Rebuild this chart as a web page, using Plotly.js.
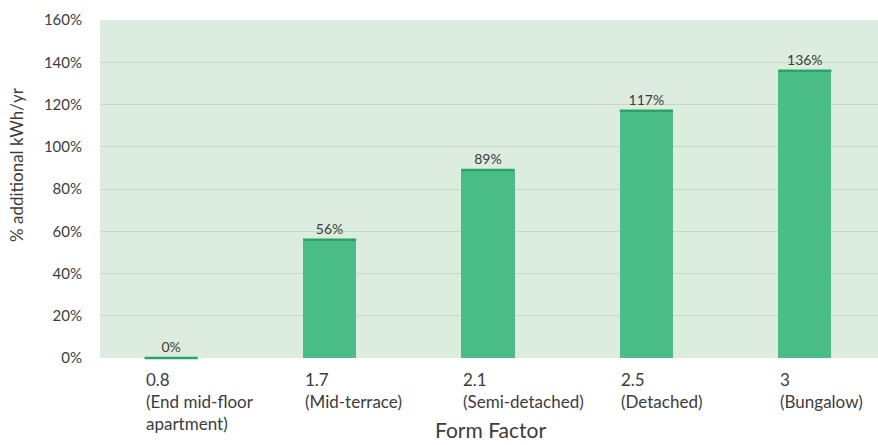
<!DOCTYPE html>
<html>
<head>
<meta charset="utf-8">
<script src="https://cdn.plot.ly/plotly-3.0.1.min.js"></script>
<style>html,body{margin:0;padding:0;background:#fff;}#chart{width:878px;height:445px;}</style>
</head>
<body>
<div id="chart"></div>
<script>
// ---- data ----
const formFactor = ['0.8', '1.7', '2.1', '2.5', '3'];
const dwellingType = ['End mid-floor<br>apartment', 'Mid-terrace', 'Semi-detached', 'Detached', 'Bungalow'];
const additionalPct = [0, 56, 89, 117, 136];
const yTickVals = [0, 20, 40, 60, 80, 100, 120, 140, 160];
const yTickText = ['0%', '20%', '40%', '60%', '80%', '100%', '120%', '140%', '160%'];
const xTitle = 'Form Factor';
const yTitle = '% additional kWh/yr';

const FONT = 'Lato, "Open Sans", sans-serif';
const TXT = '#3c3c3c';

const bars = {
  type: 'bar',
  x: formFactor,
  y: additionalPct,
  width: 0.335,
  marker: {color: '#4abc86'},
  text: additionalPct.map(v => v + '%'),
  textposition: 'outside',
  textfont: {family: FONT, size: 14, color: TXT},
  cliponaxis: false,
  hoverinfo: 'skip'
};
const tops = {
  type: 'scatter',
  mode: 'markers',
  x: formFactor,
  y: additionalPct,
  marker: {symbol: 'line-ew-open', size: 38, color: '#2aa462', line: {width: 2.5, color: '#2aa462'}},
  cliponaxis: false,
  hoverinfo: 'skip'
};

const tickAnnots = formFactor.map((f, i) => ({
  x: i, xref: 'x', y: 0, yref: 'paper',
  xanchor: 'left', yanchor: 'top', align: 'left',
  xshift: -27, yshift: -9,
  text: f + '<br>(' + dwellingType[i] + ')',
  showarrow: false,
  font: {family: FONT, size: 17, color: TXT}
}));

const titleAnnots = [
  {x: 0.502, xref: 'paper', y: -0.213, yref: 'paper', xanchor: 'center', yanchor: 'middle',
   text: xTitle, showarrow: false, font: {family: FONT, size: 21, color: TXT}},
  {x: -0.1067, xref: 'paper', y: 0.574, yref: 'paper', xanchor: 'center', yanchor: 'middle',
   text: yTitle, textangle: -90, showarrow: false, font: {family: FONT, size: 17, color: TXT}}
];

const layout = {
  width: 878, height: 445,
  margin: {l: 100, r: 0, t: 20, b: 87},
  paper_bgcolor: '#ffffff',
  plot_bgcolor: '#dcecdf',
  showlegend: false,
  bargap: 0,
  font: {family: FONT, size: 14, color: TXT},
  xaxis: {
    type: 'category',
    range: [-0.449, 4.462],
    showticklabels: false,
    showgrid: false,
    zeroline: false,
    ticks: ''
  },
  yaxis: {
    range: [0, 160],
    tickvals: yTickVals,
    ticktext: yTickText,
    showgrid: true,
    gridcolor: '#c6d7c8',
    gridwidth: 1,
    zeroline: false,
    ticks: '',
    ticklabelstandoff: 17,
    tickfont: {family: FONT, size: 15, color: TXT}
  },
  annotations: tickAnnots.concat(titleAnnots)
};

Plotly.newPlot('chart', [bars, tops], layout, {displayModeBar: false, staticPlot: true});
</script>
</body>
</html>
